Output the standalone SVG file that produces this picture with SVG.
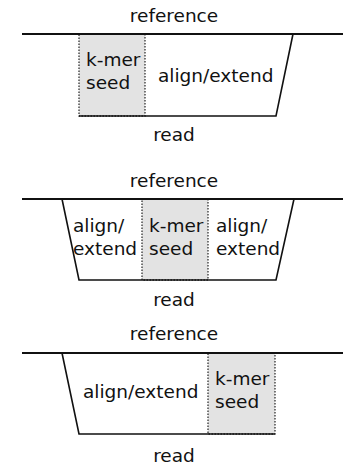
<svg xmlns="http://www.w3.org/2000/svg" width="346" height="465" viewBox="0 0 346 465">
<style>
text{font-family:"DejaVu Sans",sans-serif;font-size:18.5px;fill:#111}
.ref{stroke:#111;stroke-width:2;fill:none}
.edge{stroke:#111;stroke-width:1.6;fill:none}
.seed{fill:#e3e3e3;stroke:#333;stroke-width:1.3;stroke-dasharray:1.5 1.5}
.m{text-anchor:middle}
</style>
<rect width="346" height="465" fill="#fff"/>
<g id="panel1">
<text class="m" x="174" y="22">reference</text>
<rect class="seed" x="79" y="34" width="66" height="82"/>
<line class="ref" x1="22" y1="34" x2="343" y2="34"/>
<path class="edge" d="M293 34 L276 116 L145 116"/>
<line x1="79" y1="116" x2="145" y2="116" stroke="#111" stroke-width="1.6"/>
<text x="86" y="66">k-mer</text>
<text x="86" y="89">seed</text>
<text x="158" y="82">align/extend</text>
<text class="m" x="174" y="141">read</text>
</g>
<g id="panel2">
<text class="m" x="174" y="187">reference</text>
<rect class="seed" x="142" y="199" width="66" height="81"/>
<line class="ref" x1="22" y1="199" x2="343" y2="199"/>
<path class="edge" d="M62 199 L79 280 L276 280 L294 199"/>
<text x="73" y="232">align/</text>
<text x="73" y="255">extend</text>
<text x="149" y="232">k-mer</text>
<text x="149" y="255">seed</text>
<text x="216" y="232">align/</text>
<text x="216" y="255">extend</text>
<text class="m" x="174" y="306">read</text>
</g>
<g id="panel3">
<text class="m" x="174" y="340">reference</text>
<rect class="seed" x="208" y="353" width="67" height="81"/>
<line class="ref" x1="22" y1="353" x2="343" y2="353"/>
<path class="edge" d="M62 353 L79 434 L208 434"/>
<line x1="208" y1="434" x2="275" y2="434" stroke="#111" stroke-width="1.6"/>
<text x="83" y="398">align/extend</text>
<text x="215" y="385">k-mer</text>
<text x="215" y="408">seed</text>
<text class="m" x="174" y="462">read</text>
</g>
</svg>
